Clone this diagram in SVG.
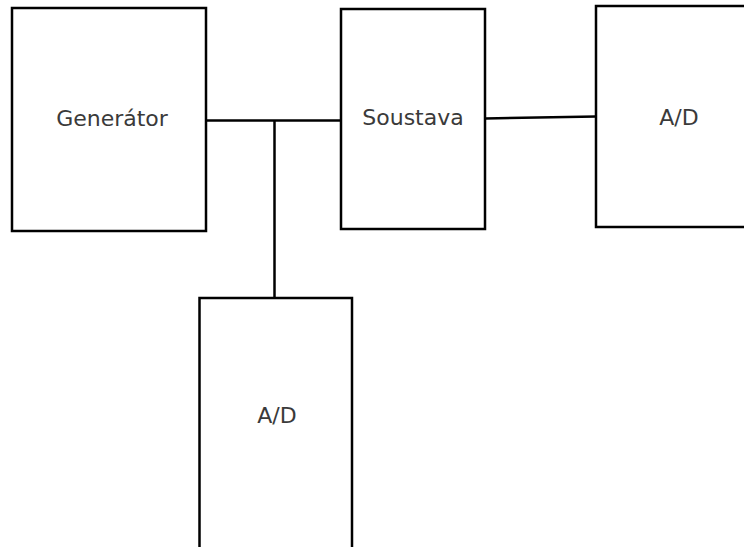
<svg xmlns="http://www.w3.org/2000/svg" width="744" height="547" viewBox="0 0 744 547">
<style>
.box{fill:#fff;stroke:#000;stroke-width:2.5}
.wire{fill:none;stroke:#000;stroke-width:2.5}
.lbl{font-family:"DejaVu Sans","Liberation Sans",sans-serif;font-size:22px;fill:#3a3a3a;text-anchor:middle}
</style>
<rect width="744" height="547" fill="#fff"/>
<g id="connectors">
<path class="wire" d="M206 120.5 H341"/>
<path class="wire" d="M274.5 120.5 V298"/>
<path class="wire" d="M485 118.5 L596 116.5"/>
</g>
<g id="generator">
<rect class="box" x="12" y="8" width="194" height="223"/>
<text class="lbl" x="112" y="126">Generátor</text>
</g>
<g id="soustava">
<rect class="box" x="341" y="9" width="144" height="220"/>
<text class="lbl" x="413" y="125">Soustava</text>
</g>
<g id="ad-right">
<rect class="box" x="596" y="6" width="170" height="221"/>
<text class="lbl" x="679" y="125">A/D</text>
</g>
<g id="ad-bottom">
<rect class="box" x="199.5" y="298" width="152.5" height="260"/>
<text class="lbl" x="277" y="423">A/D</text>
</g>
</svg>
